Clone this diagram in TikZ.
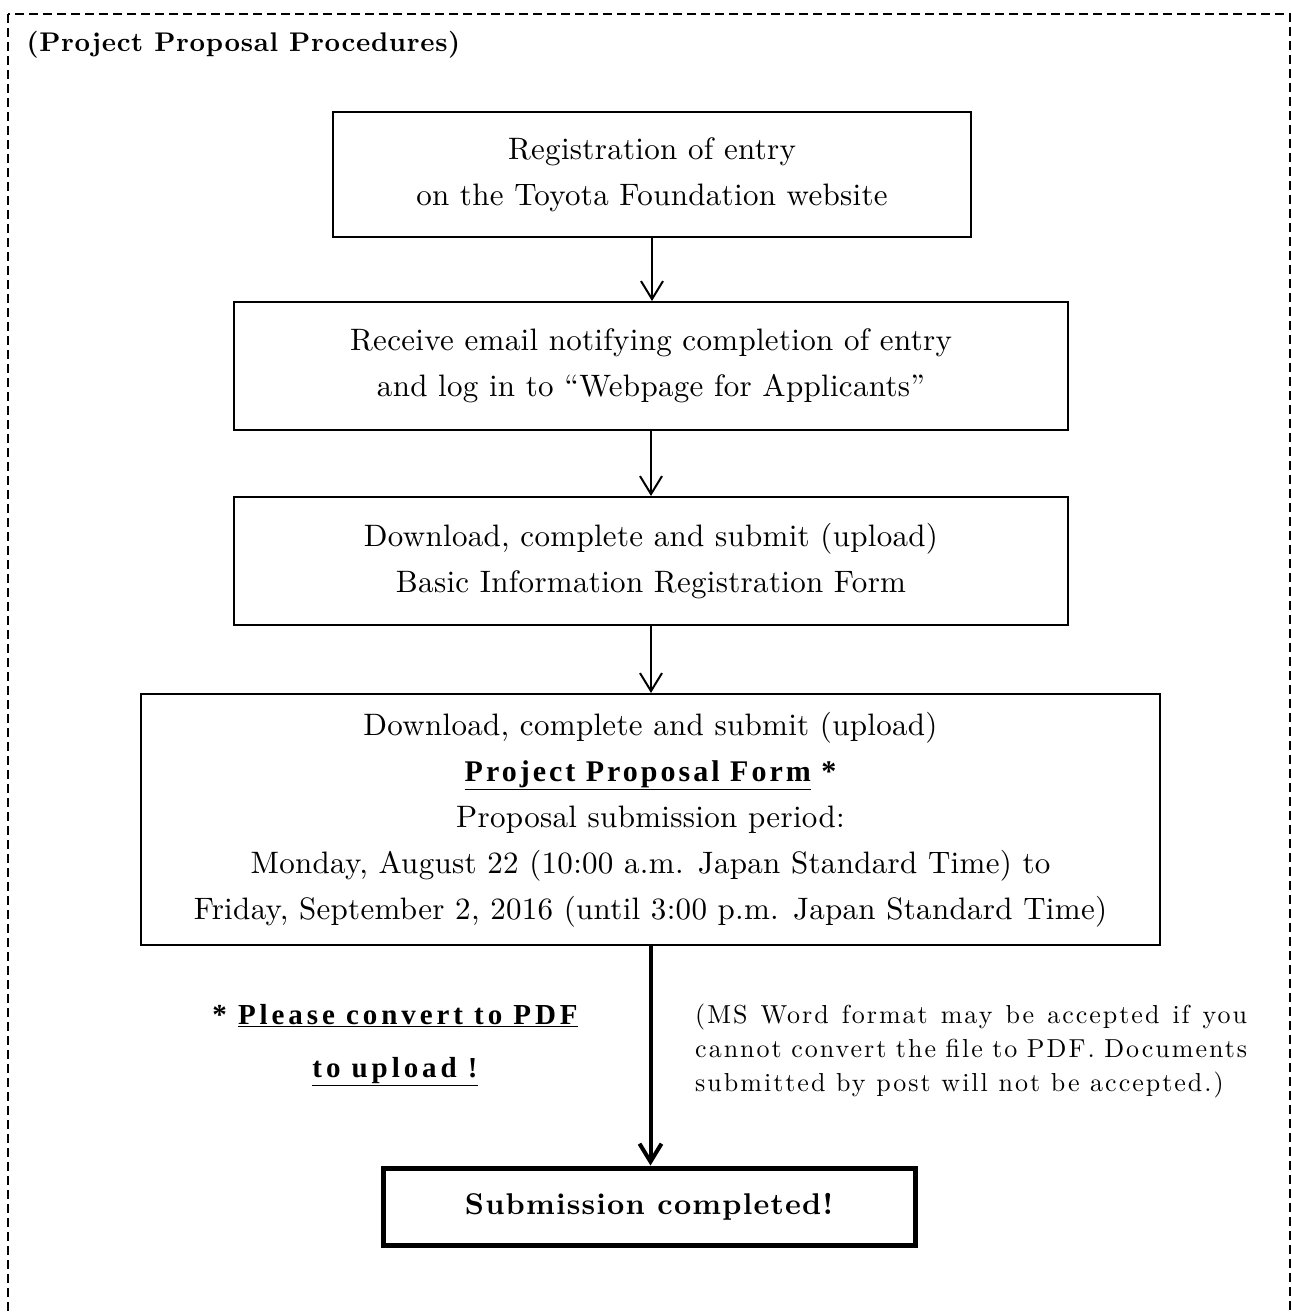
\documentclass[tikz,border=0pt]{standalone}
\usepackage{fontspec}
\usepackage{tikz}
\usetikzlibrary{arrows.meta, positioning}
\setmainfont{lmroman10-regular.otf}[BoldFont=lmroman10-bold.otf]
\newfontfamily\timesbold{Liberation Serif}[LetterSpace=10]
\newfontfamily\timeswide{Liberation Serif}[LetterSpace=13.5]

\begin{document}
\begin{tikzpicture}[
    x=1pt, y=-1pt,
    stepbox/.style={draw, line width=2pt, align=center, inner sep=0pt, font=\fontsize{31}{46}\selectfont\addfontfeatures{LetterSpace=1}},
    lastbox/.style={draw, line width=5pt, inner sep=0pt, font=\fontsize{30}{36}\selectfont\bfseries\addfontfeatures{LetterSpace=4}},
    >={Straight Barb[length=18pt, width=22pt]}
]
\useasboundingbox (0,0) rectangle (1292,1315);
\draw[line width=1.5pt, dash pattern=on 9pt off 5pt] (8,14) rectangle (1290,1400);

\node (title)    at (23,45)       [anchor=west, font=\fontsize{27}{32}\selectfont\bfseries\addfontfeatures{LetterSpace=2.5}] {(Project Proposal Procedures)};
\node (entry)    at (652,174.5)   [stepbox, minimum width=638pt, minimum height=125pt] {Registration of entry \\ on the Toyota Foundation website};
\node (login)    at (651,366)     [stepbox, minimum width=834pt, minimum height=128pt] {Receive email notifying completion of entry \\ and log in to ``Webpage for Applicants''};
\node (basic)    at (651,561)     [stepbox, minimum width=834pt, minimum height=128pt] {Download, complete and submit (upload) \\ Basic Information Registration Form};
\node (proposal) at (650.5,819.5) [stepbox, minimum width=1019pt, minimum height=251pt] {Download, complete and submit (upload) \\
    {\timesbold\bfseries\fontsize{30}{46}\selectfont\underline{Project Proposal Form} *} \\
    Proposal submission period: \\
    Monday, August 22 (10:00 a.m. Japan Standard Time) to \\
    Friday, September 2, 2016 (until 3:00 p.m. Japan Standard Time)};
\node (done)     at (649,1206.5)  [lastbox, minimum width=532pt, minimum height=77pt] {Submission completed!};

\node (pdfnote)  at (395,1045)    [align=center, font=\timeswide\bfseries\fontsize{29}{53}\selectfont] {*~\underline{Please convert to PDF} \\ \underline{to upload !}};
\node (wordnote) at (695,1051)    [anchor=west, inner sep=0pt, text width=552pt, align=justify, font=\fontsize{26}{34}\selectfont\addfontfeatures{LetterSpace=7.7}] {(MS Word format may be accepted if you\linebreak cannot convert the file to PDF. Documents\linebreak submitted by post will not be accepted.)};

\draw[->, line width=2pt] (entry.south) -- (entry.south |- login.north);
\draw[->, line width=2pt] (login.south) -- (login.south |- basic.north);
\draw[->, line width=2pt] (basic.south) -- (basic.south |- proposal.north);
\draw[->, line width=4pt] (proposal.south) -- (proposal.south |- done.north);
\end{tikzpicture}
\end{document}
